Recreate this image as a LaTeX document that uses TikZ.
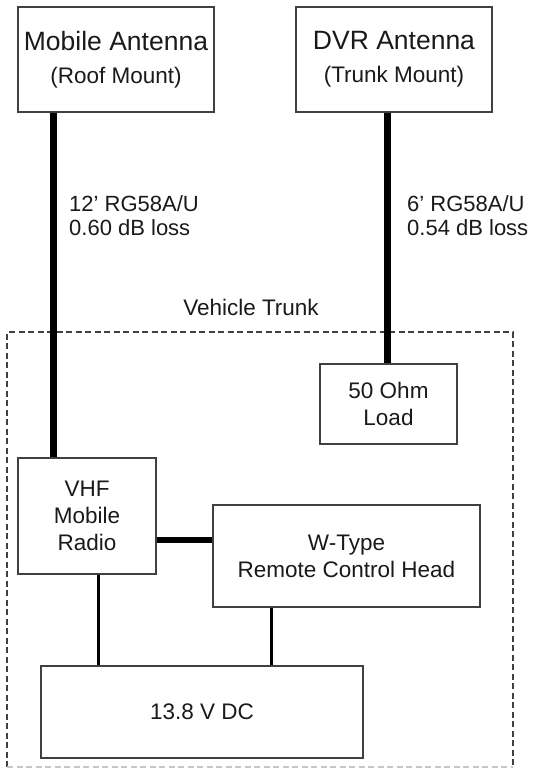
\documentclass[tikz,border=0pt]{standalone}
\usepackage{fontspec}
\setmainfont{Liberation Sans}
\definecolor{boxgray}{HTML}{404040}
\definecolor{txt}{HTML}{1A1A1A}
\begin{document}
\begin{tikzpicture}[x=1pt,y=-1pt,
  box/.style={draw=boxgray, line width=1.3pt, rectangle, inner sep=0pt, align=center,
              font=\fontsize{22.5}{27}\selectfont, text=txt},
  coax/.style={line width=6.5pt, draw=black},
  wire/.style={line width=3pt, draw=black},
  lbl/.style={align=left, font=\fontsize{22}{24}\selectfont, text=txt, inner sep=0pt},
  trunk/.style={draw=boxgray, line width=1.2pt, dash pattern=on 6pt off 3.5pt}]
\useasboundingbox (0,0) rectangle (541,769);
\fill[white] (0,0) rectangle (541,769);

% boxes
\node[box, minimum width=196pt, minimum height=105pt] (mob) at (116,59.5)
  {{\fontsize{26.5}{27}\selectfont Mobile Antenna}\\[6pt](Roof Mount)};
\node[box, minimum width=196pt, minimum height=105pt] (dvr) at (394,59.5)
  {{\fontsize{26.5}{27}\selectfont DVR Antenna}\\[6pt](Trunk Mount)};
\node[box, minimum width=137pt, minimum height=80pt] (load) at (388.5,404)
  {50 Ohm\\Load};
\node[box, minimum width=138pt, minimum height=116pt] (vhf) at (87,516)
  {VHF\\Mobile\\Radio};
\node[box, minimum width=267pt, minimum height=102pt] (wt) at (346.5,556)
  {W-Type\\Remote Control Head};
\node[box, minimum width=322pt, minimum height=92pt] (dc) at (202,712)
  {13.8 V DC};

% vehicle trunk region
\draw[trunk] (7,767) -- (7,332) -- (513,332) -- (513,767);
\draw[trunk, draw=gray!45] (7,767) -- (513,767);
\node[font=\fontsize{22.5}{27}\selectfont, text=txt, inner sep=0pt] (trunklbl) at (251,307) {Vehicle Trunk};

% cable labels
\node[lbl, anchor=west] (l1) at (69,216) {12’ RG58A/U\\0.60 dB loss};
\node[lbl, anchor=west] (l2) at (407,216) {6’ RG58A/U\\0.54 dB loss};

% connectors
\coordinate (cA) at (53.5,0);
\coordinate (cB) at (387.5,0);
\coordinate (cC) at (0,540);
\coordinate (cD) at (98.5,0);
\coordinate (cE) at (271,0);
\draw[coax] (mob.south -| cA) -- (vhf.north -| cA);
\draw[coax] (dvr.south -| cB) -- (load.north -| cB);
\draw[coax] (vhf.east |- cC) -- (wt.west |- cC);
\draw[wire] (vhf.south -| cD) -- (dc.north -| cD);
\draw[wire] (wt.south -| cE) -- (dc.north -| cE);
\end{tikzpicture}
\end{document}
